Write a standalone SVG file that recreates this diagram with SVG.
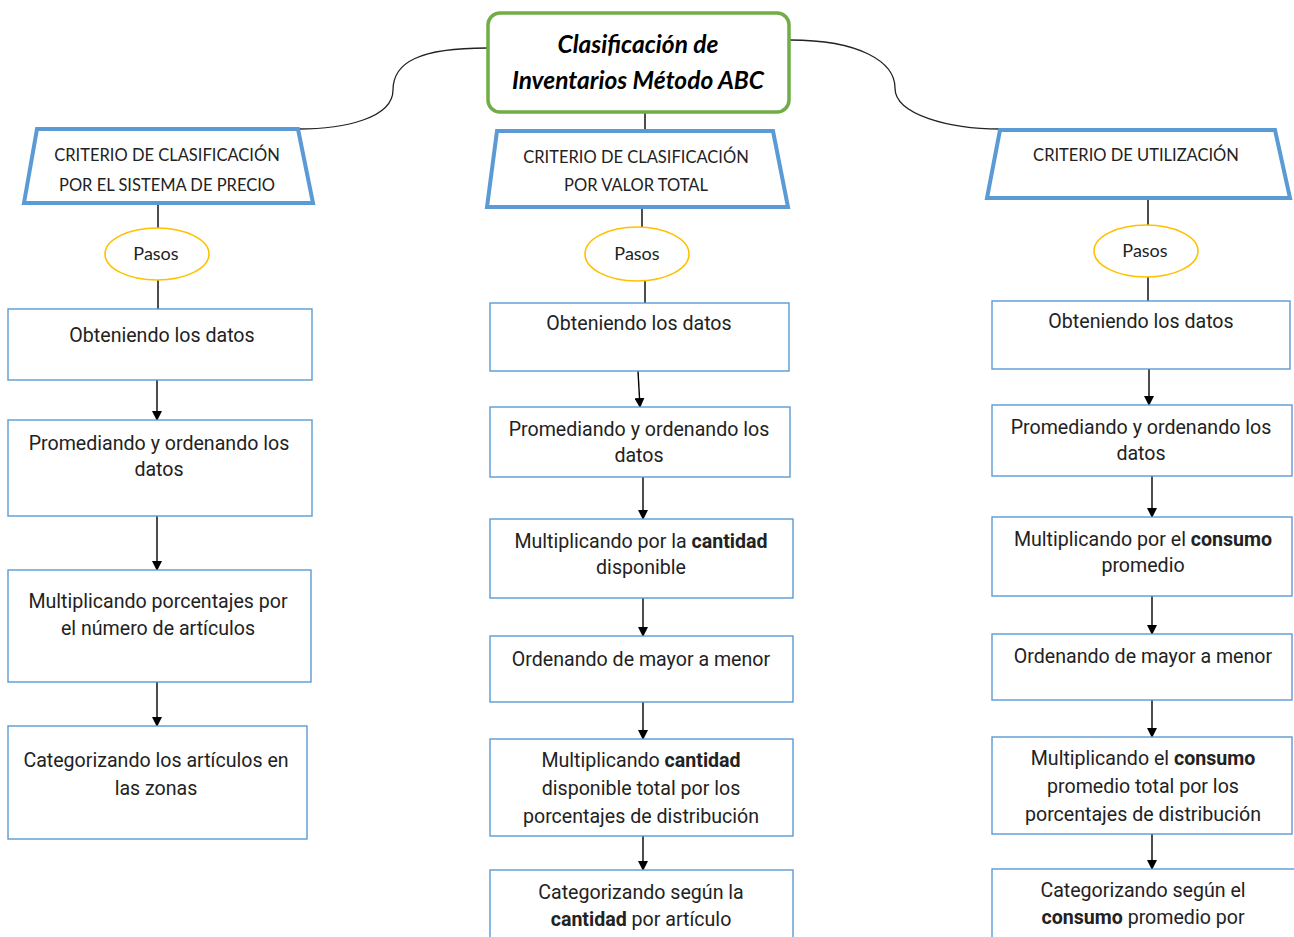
<svg xmlns="http://www.w3.org/2000/svg" width="1294" height="937" viewBox="0 0 1294 937">
<style>
.bg{fill:#fff}
.title{fill:#fff;stroke:#70AD47;stroke-width:3.5}
.trap{fill:#fff;stroke:#5B9BD5;stroke-width:4}
.ell{fill:#fff;stroke:#FFC000;stroke-width:1.6}
.box{fill:#fff;stroke:#5B9BD5;stroke-width:1.4}
.ln{fill:none;stroke:#000;stroke-width:1.4}
.cv{fill:none;stroke:#222;stroke-width:1.3}
.tt{font-family:Lato,"Open Sans",sans-serif;font-weight:bold;font-style:italic;font-size:24.5px;fill:#000;text-anchor:middle}
.th{font-family:Lato,"Open Sans",sans-serif;font-size:16.5px;fill:#222;text-anchor:middle}
.tp{font-family:Lato,"Open Sans",sans-serif;font-size:18px;fill:#222;text-anchor:middle}
.tb{font-family:"Liberation Sans Narrow",Roboto,"Liberation Sans",sans-serif;font-size:19.6px;fill:#222;text-anchor:middle}
.b{font-weight:bold}
</style>
<defs>
<marker id="ah" markerWidth="10" markerHeight="10" refX="9" refY="5" orient="auto" markerUnits="userSpaceOnUse">
<path d="M0,0 L10,5 L0,10 z" fill="#000"/>
</marker>
</defs>
<rect class="bg" x="0" y="0" width="1294" height="937"/>

<g id="connectors">
<path class="cv" d="M487,48 C420,48 393,62 393,90 C393,118 345,129 298,129"/>
<path class="cv" d="M790,40 C860,40 895,62 895,88 C895,115 950,129 1000,129"/>
<line class="ln" x1="645" y1="112" x2="645" y2="131"/>
<line class="ln" x1="158" y1="204" x2="158" y2="228"/>
<line class="ln" x1="158" y1="280" x2="158" y2="309"/>
<line class="ln" x1="642" y1="207" x2="642" y2="227"/>
<line class="ln" x1="645" y1="281" x2="645" y2="303"/>
<line class="ln" x1="1148" y1="199" x2="1148" y2="225"/>
<line class="ln" x1="1148" y1="277" x2="1148" y2="301"/>
<line class="ln" x1="157" y1="380" x2="157" y2="420" marker-end="url(#ah)"/>
<line class="ln" x1="157" y1="516" x2="157" y2="570" marker-end="url(#ah)"/>
<line class="ln" x1="157" y1="682" x2="157" y2="726" marker-end="url(#ah)"/>
<line class="ln" x1="638" y1="371" x2="640" y2="407" marker-end="url(#ah)"/>
<line class="ln" x1="643" y1="477" x2="643" y2="519" marker-end="url(#ah)"/>
<line class="ln" x1="643" y1="598" x2="643" y2="636" marker-end="url(#ah)"/>
<line class="ln" x1="643" y1="702" x2="643" y2="739" marker-end="url(#ah)"/>
<line class="ln" x1="643" y1="836" x2="643" y2="870" marker-end="url(#ah)"/>
<line class="ln" x1="1149" y1="369" x2="1149" y2="405" marker-end="url(#ah)"/>
<line class="ln" x1="1152" y1="476" x2="1152" y2="517" marker-end="url(#ah)"/>
<line class="ln" x1="1152" y1="596" x2="1152" y2="634" marker-end="url(#ah)"/>
<line class="ln" x1="1152" y1="700" x2="1152" y2="737" marker-end="url(#ah)"/>
<line class="ln" x1="1152" y1="834" x2="1152" y2="869" marker-end="url(#ah)"/>
</g>

<g id="title">
<rect class="title" x="488" y="13" width="301" height="99" rx="12"/>
<text class="tt" x="638" y="53">Clasificación de</text>
<text class="tt" x="638" y="89">Inventarios Método ABC</text>
</g>

<g id="crit-precio">
<polygon class="trap" points="37,129 298,129 313,203 24,203"/>
<text class="th" x="167" y="161">CRITERIO DE CLASIFICACIÓN</text>
<text class="th" x="167" y="191">POR EL SISTEMA DE PRECIO</text>
</g>
<g id="crit-valor">
<polygon class="trap" points="497,131 773,131 788,207 487,207"/>
<text class="th" x="636" y="163">CRITERIO DE CLASIFICACIÓN</text>
<text class="th" x="636" y="191">POR VALOR TOTAL</text>
</g>
<g id="crit-util">
<polygon class="trap" points="1000,130 1275,130 1290,198 987,198"/>
<text class="th" x="1136" y="161">CRITERIO DE UTILIZACIÓN</text>
</g>

<g id="pasos-1"><ellipse class="ell" cx="157" cy="254" rx="52" ry="26"/><text class="tp" x="156" y="260">Pasos</text></g>
<g id="pasos-2"><ellipse class="ell" cx="637" cy="254" rx="52" ry="27"/><text class="tp" x="637" y="260">Pasos</text></g>
<g id="pasos-3"><ellipse class="ell" cx="1146" cy="251" rx="52" ry="26"/><text class="tp" x="1145" y="257">Pasos</text></g>

<g id="l1"><rect class="box" x="8" y="309" width="304" height="71"/><text class="tb" x="162" y="342">Obteniendo los datos</text></g>
<g id="l2"><rect class="box" x="8" y="420" width="304" height="96"/><text class="tb" x="159" y="450">Promediando y ordenando los</text><text class="tb" x="159" y="476">datos</text></g>
<g id="l3"><rect class="box" x="8" y="570" width="303" height="112"/><text class="tb" x="158" y="608">Multiplicando porcentajes por</text><text class="tb" x="158" y="635">el número de artículos</text></g>
<g id="l4"><rect class="box" x="8" y="726" width="299" height="113"/><text class="tb" x="156" y="767">Categorizando los artículos en</text><text class="tb" x="156" y="795">las zonas</text></g>

<g id="m1"><rect class="box" x="490" y="303" width="299" height="68"/><text class="tb" x="639" y="330">Obteniendo los datos</text></g>
<g id="m2"><rect class="box" x="490" y="407" width="300" height="70"/><text class="tb" x="639" y="436">Promediando y ordenando los</text><text class="tb" x="639" y="462">datos</text></g>
<g id="m3"><rect class="box" x="490" y="519" width="303" height="79"/><text class="tb" x="641" y="548">Multiplicando por la <tspan class="b">cantidad</tspan></text><text class="tb" x="641" y="574">disponible</text></g>
<g id="m4"><rect class="box" x="490" y="636" width="303" height="66"/><text class="tb" x="641" y="666">Ordenando de mayor a menor</text></g>
<g id="m5"><rect class="box" x="490" y="739" width="303" height="97"/><text class="tb" x="641" y="767">Multiplicando <tspan class="b">cantidad</tspan></text><text class="tb" x="641" y="795">disponible total por los</text><text class="tb" x="641" y="823">porcentajes de distribución</text></g>
<g id="m6"><rect class="box" x="490" y="870" width="303" height="80"/><text class="tb" x="641" y="899">Categorizando según la</text><text class="tb" x="641" y="926"><tspan class="b">cantidad</tspan> por artículo</text></g>

<g id="r1"><rect class="box" x="992" y="301" width="298" height="68"/><text class="tb" x="1141" y="328">Obteniendo los datos</text></g>
<g id="r2"><rect class="box" x="992" y="405" width="300" height="71"/><text class="tb" x="1141" y="434">Promediando y ordenando los</text><text class="tb" x="1141" y="460">datos</text></g>
<g id="r3"><rect class="box" x="992" y="517" width="300" height="79"/><text class="tb" x="1143" y="546">Multiplicando por el <tspan class="b">consumo</tspan></text><text class="tb" x="1143" y="572">promedio</text></g>
<g id="r4"><rect class="box" x="992" y="634" width="300" height="66"/><text class="tb" x="1143" y="663">Ordenando de mayor a menor</text></g>
<g id="r5"><rect class="box" x="992" y="737" width="300" height="97"/><text class="tb" x="1143" y="765">Multiplicando el <tspan class="b">consumo</tspan></text><text class="tb" x="1143" y="793">promedio total por los</text><text class="tb" x="1143" y="821">porcentajes de distribución</text></g>
<g id="r6"><rect class="box" x="992" y="869" width="305" height="80"/><text class="tb" x="1143" y="897">Categorizando según el</text><text class="tb" x="1143" y="924"><tspan class="b">consumo</tspan> promedio por</text></g>
</svg>
